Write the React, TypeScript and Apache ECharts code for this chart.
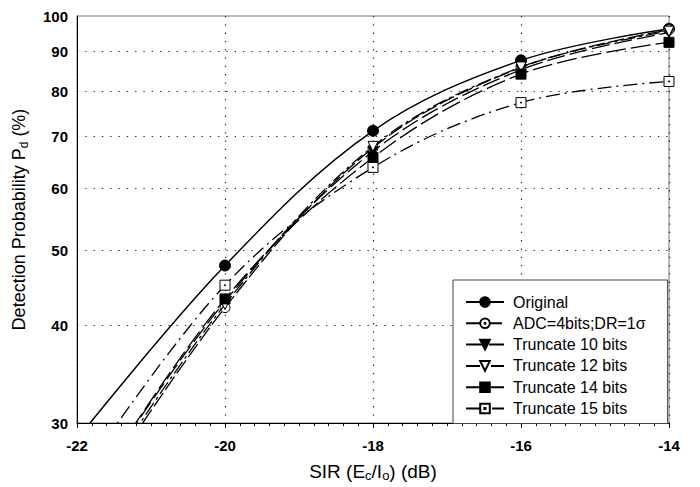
import React, { useEffect, useRef } from "react";
import * as echarts from "echarts";

// SIR (Ec/Io) in dB at the measured points
const sirPoints = [-20, -18, -16, -14];
// x where the fitted trend lines are extended back to (clipped by the axis)
const trendStartX = -22;

const seriesNames = [
  "Original",
  "ADC=4bits;DR=1σ",
  "Truncate 10 bits",
  "Truncate 12 bits",
  "Truncate 14 bits",
  "Truncate 15 bits",
];

// Detection probability (%) at each SIR point
const original = [47.8, 71.2, 87.7, 96.3];
const adc4bits = [42.2, 67.7, 85.9, 96.0];
const trunc10 = [43.0, 67.0, 85.3, 95.2];
const trunc12 = [42.6, 68.0, 86.0, 95.6];
const trunc14 = [43.3, 65.8, 84.2, 92.5];
const trunc15 = [45.1, 63.9, 77.4, 82.4];

const trendStartValues = [28.6, 22.3, 23.0, 22.6, 22.9, 25.2];

const yTickLabels = [30, 40, 50, 60, 70, 80, 90, 100];
const yGridValues = [40, 50, 60, 70, 80, 90];

const FONT = "'Liberation Sans', Arial, sans-serif";

const circleDot =
  "path://M10,0A10,10,0,1,1,10,20A10,10,0,1,1,10,0Z M10,8.8A1.2,1.2,0,1,1,10,11.2A1.2,1.2,0,1,1,10,8.8Z";
const squareDot = "path://M0,0H20V20H0Z M9,9H11V11H9Z";

export default function App() {
  const ref = useRef<HTMLDivElement>(null);

  useEffect(() => {
    if (!ref.current) return;
    const chart = echarts.init(ref.current, undefined, { renderer: "svg" });
    const lg = (v: number) => Math.log10(v);

    const allValues = [original, adc4bits, trunc10, trunc12, trunc14, trunc15];
    const markers = [
      { symbol: "circle", size: 11, fill: "#000", rotate: 0 },
      { symbol: circleDot, size: 10, fill: "#fff", rotate: 0 },
      { symbol: "triangle", size: 10, fill: "#000", rotate: 180 },
      { symbol: "triangle", size: 10, fill: "#fff", rotate: 180 },
      { symbol: "rect", size: 10, fill: "#000", rotate: 0 },
      { symbol: squareDot, size: 10, fill: "#fff", rotate: 0 },
    ];
    const dashes: (string | number[])[] = [
      "solid",
      [16, 4],
      [18, 5],
      [14, 4, 3, 4],
      [20, 5],
      [14, 5, 2, 5],
    ];

    const series = seriesNames.map((name, i) => ({
      name,
      type: "line",
      smooth: 0.35,
      clip: true,
      symbol: markers[i].symbol,
      symbolSize: markers[i].size,
      symbolRotate: markers[i].rotate,
      showAllSymbol: true,
      itemStyle: {
        color: markers[i].fill,
        borderColor: "#000",
        borderWidth: 1,
      },
      lineStyle: {
        color: "#000",
        width: i === 0 ? 1.5 : 1.3,
        type: dashes[i],
      },
      emphasis: { disabled: true },
      data: [
        { value: [trendStartX, lg(trendStartValues[i])], symbol: "none" },
        ...sirPoints.map((x, k) => [x, lg(allValues[i][k])]),
      ],
      z: 3 + i,
    }));

    chart.setOption({
      animation: false,
      textStyle: { fontFamily: FONT },
      grid: {
        left: 77,
        right: 31,
        top: 16,
        bottom: 57,
        show: true,
        borderColor: "#777",
        borderWidth: 1,
        backgroundColor: "transparent",
      },
      legend: {
        orient: "vertical",
        left: 453,
        top: 280,
        itemWidth: 38,
        itemHeight: 12,
        itemGap: 5.3,
        padding: [14, 22, 7, 12],
        borderColor: "#444",
        borderWidth: 1,
        backgroundColor: "#fff",
        textStyle: { fontSize: 16, color: "#000", fontFamily: FONT, padding: [0, 0, 0, 4] },
        data: seriesNames,
      },
      xAxis: {
        type: "value",
        min: -22,
        max: -14,
        interval: 2,
        name: "SIR (E{s|c}/I{s|o}) (dB)",
        nameLocation: "middle",
        nameGap: 37,
        nameTextStyle: {
          fontSize: 19,
          color: "#000",
          fontFamily: FONT,
          lineHeight: 22,
          rich: { s: { fontSize: 13, lineHeight: 13, verticalAlign: "bottom", fontFamily: FONT, color: "#000" } },
        },
        axisLine: { lineStyle: { color: "#000", width: 1 } },
        axisTick: { show: true, length: 5, lineStyle: { color: "#000" } },
        minorTick: { show: true, splitNumber: 10, length: 3, lineStyle: { color: "#000" } },
        axisLabel: {
          fontSize: 15,
          fontWeight: "bold",
          color: "#000",
          margin: 15,
          fontFamily: FONT,
        },
        splitLine: {
          show: true,
          lineStyle: { color: "#222", width: 1.2, type: [1.3, 7] },
        },
      },
      yAxis: {
        type: "value",
        min: lg(30),
        max: 2,
        name: "Detection Probability P{s|d} (%)",
        nameLocation: "middle",
        nameGap: 47,
        nameTextStyle: {
          fontSize: 18,
          color: "#000",
          fontFamily: FONT,
          lineHeight: 22,
          rich: { s: { fontSize: 12, lineHeight: 13, verticalAlign: "bottom", fontFamily: FONT, color: "#000" } },
        },
        axisLine: { show: true, lineStyle: { color: "#000", width: 1 } },
        axisTick: { show: false, customValues: yGridValues.map(lg) },
        axisLabel: {
          customValues: yTickLabels.map(lg),
          formatter: (v: number) => String(Math.round(Math.pow(10, v))),
          fontSize: 15,
          fontWeight: "bold",
          color: "#000",
          margin: 9,
          fontFamily: FONT,
        },
        splitLine: {
          show: true,
          lineStyle: { color: "#222", width: 1.2, type: [1.3, 7] },
        },
      },
      series,
    });

    return () => chart.dispose();
  }, []);

  return <div ref={ref} style={{ width: 700, height: 487, position: "absolute", left: 0, top: 0 }} />;
}
